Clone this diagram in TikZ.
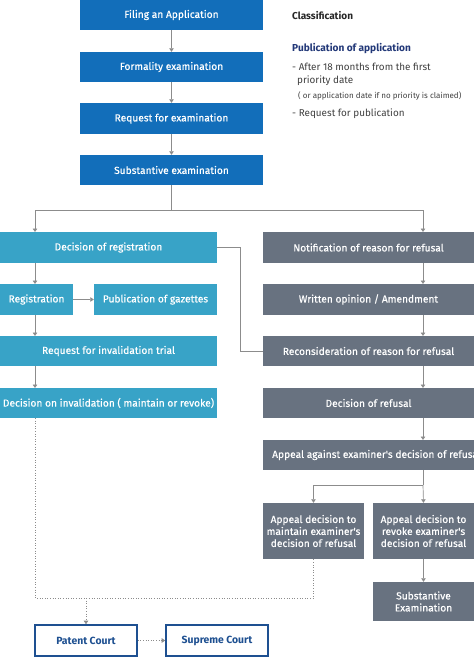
\documentclass[tikz,border=0pt]{standalone}
\usepackage{fontspec}
\setmainfont{Fira Sans}
\newfontfamily\boxfont[FakeBold=0.5]{Fira Sans}
\usetikzlibrary{arrows.meta}
\definecolor{cblue}{RGB}{18,110,186}
\definecolor{cteal}{RGB}{56,163,199}
\definecolor{cgray}{RGB}{104,114,128}
\definecolor{cline}{RGB}{140,140,140}
\definecolor{cnavy}{RGB}{30,80,145}
\definecolor{ctitle}{RGB}{34,56,120}
\begin{document}
\begin{tikzpicture}[x=1pt,y=-1pt,
  box/.style={draw=none,inner sep=0pt,text=white,font=\boxfont\fontsize{10.2}{12}\selectfont,align=center},
  bluebox/.style={box,fill=cblue},
  tealbox/.style={box,fill=cteal},
  graybox/.style={box,fill=cgray},
  courtbox/.style={inner sep=0pt,draw=cnavy,line width=1.6pt,fill=white,text=cnavy,font=\fontsize{10.4}{12}\selectfont\bfseries},
  conn/.style={draw=cline,line width=0.7pt},
  arr/.style={conn,-{Triangle[width=4.5pt,length=3.5pt]}},
  dots/.style={draw=cline,line width=0.6pt,dotted},
  darr/.style={dots,-{Triangle[width=4.5pt,length=3.5pt]}}]
\useasboundingbox (0,0) rectangle (474,657);
\newcommand{\bx}[7]{\node[#1,minimum width=#4-#2,minimum height=#5-#3] (#6) at ({(#2+#4)/2},{(#3+#5)/2}) {#7};}
\bx{bluebox}{80}{0}{263}{30}{fil}{Filing an Application}
\bx{bluebox}{80}{52}{263}{82}{form}{Formality examination}
\bx{bluebox}{80}{103}{263}{134}{req}{Request for examination}
\bx{bluebox}{80}{155}{263}{185}{sub}{Substantive examination}

\bx{tealbox}{0}{232}{217}{263}{decreg}{Decision of registration}
\bx{tealbox}{0}{284}{73}{315}{reg}{Registration}
\bx{tealbox}{94}{284}{217}{315}{pub}{Publication of gazettes}
\bx{tealbox}{0}{336}{217}{366}{inv}{Request for invalidation trial}
\bx{tealbox}{0}{388}{217}{418}{decinv}{Decision on invalidation ( maintain or revoke)}

\bx{graybox}{263}{232}{474}{263}{notif}{Notification of reason for refusal}
\bx{graybox}{263}{284}{474}{315}{writ}{Written opinion / Amendment}
\bx{graybox}{263}{336}{474}{366}{recon}{Reconsideration of reason for refusal}
\bx{graybox}{263}{388}{474}{418}{decref}{Decision of refusal}
\bx{graybox}{263}{440}{584}{470}{appeal}{}
\node[text=white,font=\boxfont\fontsize{10.2}{12}\selectfont,anchor=west,inner sep=0pt] (appealtxt) at (272,455) {Appeal against examiner's decision of refusal};
\bx{graybox}{263}{503}{364}{559}{maint}{Appeal decision to\\maintain examiner's\\decision of refusal}
\bx{graybox}{373}{503}{474}{559}{revoke}{Appeal decision to\\revoke examiner's\\decision of refusal}
\bx{graybox}{373}{582}{474}{621}{subex}{Substantive\\Examination}

\bx{courtbox}{35}{625}{137}{656}{patent}{Patent Court}
\bx{courtbox}{166}{625}{268}{656}{supreme}{Supreme Court}

\node[anchor=west,inner sep=0pt,font=\fontsize{10}{11}\selectfont\bfseries,text=black!85] (cls) at (292,16) {Classification};
\node[anchor=west,inner sep=0pt,font=\fontsize{10.1}{11}\selectfont\bfseries,text=ctitle] (pubapp) at (292,49) {Publication of application};
\node[anchor=north west,inner sep=0pt,font=\fontsize{9.9}{13}\selectfont,text=black!75,align=left] (n1) at (292,63) {- After 18 months from the first\\\hspace*{5pt}priority date};
\node[anchor=west,inner sep=0pt,font=\fontsize{8}{9}\selectfont,text=black!75] (n2) at (298,96) {( or application date if no priority is claimed)};
\node[anchor=west,inner sep=0pt,font=\fontsize{9.9}{11}\selectfont,text=black!75] (n3) at (292,114) {- Request for publication};

\draw[arr] (fil.south) -- (form.north);
\draw[arr] (form.south) -- (req.north);
\draw[arr] (req.south) -- (sub.north);
\coordinate (split) at (171.5,210);
\draw[conn] (sub.south) -- (split);
\draw[arr] (split) -| (35,232);
\draw[arr] (split) -| (423,232);

\draw[arr] (35,263) -- (35,284);
\draw[arr] (reg.east) -- (pub.west);
\draw[arr] (35,315) -- (35,336);
\draw[arr] (35,366) -- (35,388);
\draw[conn] (decreg.east) -- (240,247.5) |- (recon.west);

\draw[arr] (423,263) -- (423,284);
\draw[arr] (423,315) -- (423,336);
\draw[arr] (423,366) -- (423,388);
\draw[arr] (423,418) -- (423,440);
\coordinate (split2) at (423,485);
\draw[conn] (423,470) -- (split2);
\draw[arr] (split2) -| (maint.north);
\draw[arr] (split2) -- (revoke.north);
\draw[arr] (revoke.south) -- (subex.north);

\coordinate (dl) at (35,598);
\coordinate (dr) at (313.5,598);
\draw[dots] (35,418) -- (dl) -- (dr) -- (maint.south);
\draw[darr] (86,598) -- (patent.north);
\draw[darr] (patent.east) -- (supreme.west);
\end{tikzpicture}
\end{document}
